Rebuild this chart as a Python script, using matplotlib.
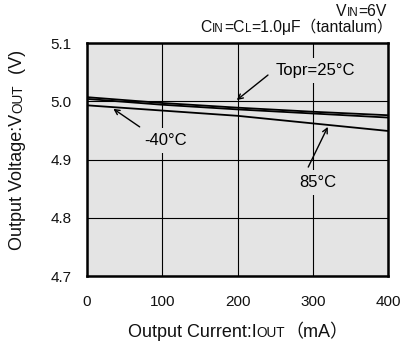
import matplotlib
matplotlib.use("Agg")
import matplotlib.pyplot as plt
from matplotlib.font_manager import FontProperties
from matplotlib.transforms import IdentityTransform

FAMILY = ["Liberation Sans", "Noto Sans CJK JP", "DejaVu Sans"]
plt.rcParams["font.family"] = FAMILY

# ---- data ----
current_ma = [0, 100, 200, 300, 400]
v_25c = [5.007, 4.997, 4.989, 4.982, 4.976]
v_m40c = [5.004, 4.994, 4.986, 4.979, 4.972]
v_85c = [4.993, 4.984, 4.975, 4.962, 4.949]
x_ticks = [0, 100, 200, 300, 400]
y_ticks = [4.7, 4.8, 4.9, 5.0, 5.1]
y_ticklabels = ["4.7", "4.8", "4.9", "5.0", "5.1"]

W, H = 401, 345
fig = plt.figure(figsize=(W / 100, H / 100), dpi=100)
L, R, T, B = 87, 388, 43, 276
ax = fig.add_axes([L / W, 1 - B / H, (R - L) / W, (B - T) / H])
ax.set_facecolor("#e4e4e4")
ax.set_xlim(0, 400)
ax.set_ylim(4.7, 5.1)
ax.set_xticks(x_ticks)
ax.set_xticklabels([str(v) for v in x_ticks])
ax.set_yticks(y_ticks)
ax.set_yticklabels(y_ticklabels)
ax.tick_params(length=0, labelsize=11, colors="#111111")
ax.tick_params(axis="x", pad=14)
ax.tick_params(axis="y", pad=11)
for s in ax.spines.values():
    s.set_linewidth(1.8)
    s.set_color("black")
ax.grid(True, color="black", linewidth=0.8, zorder=0)
ax.set_axisbelow(True)

for v in (v_25c, v_m40c, v_85c):
    ax.plot(current_ma, v, color="black", linewidth=1.3, zorder=3, clip_on=False, solid_capstyle="butt")

bbox = dict(boxstyle="square,pad=0.3", facecolor="#e4e4e4", edgecolor="none")
arrow = dict(arrowstyle="->", color="black", linewidth=1.0, shrinkA=0, shrinkB=0,
             mutation_scale=9)

ax.text(304, 5.052, "Topr=25°C", ha="center", va="center", fontsize=12, bbox=bbox, zorder=4)
ax.annotate("", xy=(199, 5.002), xytext=(240.5, 5.045), arrowprops=arrow, zorder=5)

ax.text(105, 4.932, "-40°C", ha="center", va="center", fontsize=12, bbox=bbox, zorder=4)
ax.annotate("", xy=(35, 4.987), xytext=(70, 4.956), arrowprops=arrow, zorder=5)

ax.text(307, 4.861, "85°C", ha="center", va="center", fontsize=12, bbox=bbox, zorder=4)
ax.annotate("", xy=(320, 4.956), xytext=(294, 4.887), arrowprops=arrow, zorder=5)

renderer = fig.canvas.get_renderer()
SEP = 0.3


def rich(x, y_top, pieces, ha="center", rotation=0):
    widths = []
    for s, size in pieces:
        fp = FontProperties(family=FAMILY, size=size)
        w, h, d = renderer.get_text_width_height_descent(s, fp, ismath=False)
        widths.append(w)
    total = sum(widths) + SEP * (len(pieces) - 1)
    if rotation == 0:
        y = H - y_top
        pos = x - total / 2 if ha == "center" else (x - total if ha == "right" else x)
        for (s, size), w in zip(pieces, widths):
            fig.text(pos, y, s, transform=IdentityTransform(), ha="left", va="baseline",
                     fontsize=size, color="#111111")
            pos += w + SEP
    else:
        yc = H - y_top
        pos = yc - total / 2
        for (s, size), w in zip(pieces, widths):
            fig.text(x, pos, s, transform=IdentityTransform(), ha="left", va="baseline",
                     rotation=90, rotation_mode="anchor", fontsize=size, color="#111111")
            pos += w + SEP


big = 13
sm = 9.8
rich(238, 337, [("Output Current:I", big), ("OUT", sm), ("（mA）", big)])
rich(22.5, 150, [("Output Voltage:V", big), ("OUT", sm), ("\u00a0\u00a0(V)", big)], rotation=90)

hs = 11.3
hsm = 8.4
rich(387, 16, [("V", hs), ("IN", hsm), ("=6V", hs)], ha="right")
rich(393, 32, [("C", hs), ("IN", hsm), ("=C", hs), ("L", hsm), ("=1.0μF（tantalum）", hs)], ha="right")

fig.savefig("out.png", dpi=100)
